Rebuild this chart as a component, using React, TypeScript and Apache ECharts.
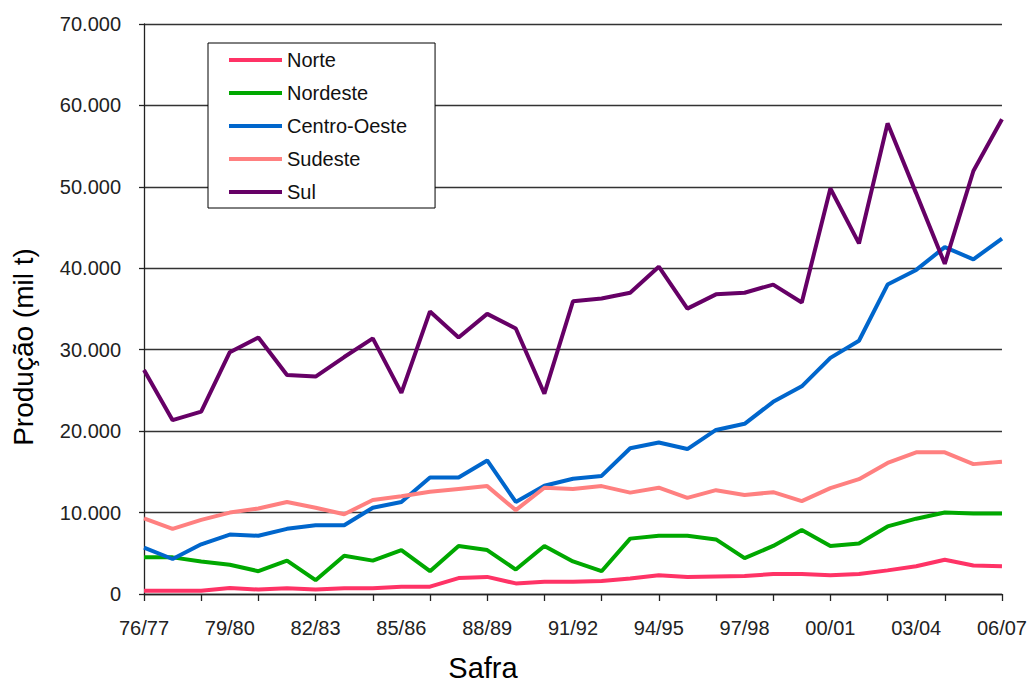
import React, { useEffect, useRef } from "react";
import * as echarts from "echarts";

const categories = [
  "76/77", "77/78", "78/79", "79/80", "80/81", "81/82", "82/83", "83/84", "84/85", "85/86",
  "86/87", "87/88", "88/89", "89/90", "90/91", "91/92", "92/93", "93/94", "94/95", "95/96",
  "96/97", "97/98", "98/99", "99/00", "00/01", "01/02", "02/03", "03/04", "04/05", "05/06", "06/07",
];

const norte = [
  400, 400, 400, 750, 550, 700, 550, 700, 700, 900, 900, 1950, 2100, 1300, 1500, 1500,
  1600, 1900, 2300, 2100, 2150, 2200, 2450, 2450, 2300, 2450, 2900, 3400, 4200, 3500, 3400,
];
const nordeste = [
  4500, 4500, 4000, 3600, 2800, 4100, 1700, 4700, 4100, 5400, 2800, 5900, 5400, 3000, 5900, 4000,
  2800, 6800, 7150, 7150, 6700, 4400, 5900, 7850, 5900, 6200, 8300, 9250, 10000, 9900, 9900,
];
const centroOeste = [
  5700, 4300, 6100, 7300, 7150, 8000, 8450, 8450, 10600, 11300, 14300, 14300, 16400, 11300, 13300, 14150,
  14500, 17900, 18600, 17800, 20150, 20900, 23600, 25500, 29000, 31100, 38000, 39800, 42600, 41100, 43650,
];
const sudeste = [
  9300, 8000, 9100, 10000, 10500, 11300, 10600, 9800, 11550, 12000, 12550, 12900, 13250, 10300, 13050, 12900,
  13250, 12450, 13050, 11800, 12750, 12150, 12500, 11400, 13000, 14100, 16100, 17400, 17400, 15950, 16250,
];
const sul = [
  27500, 21350, 22400, 29700, 31500, 26900, 26700, 29100, 31400, 24700, 34700, 31500, 34400, 32600, 24600, 35950,
  36300, 37000, 40200, 35050, 36800, 37000, 38000, 35800, 49800, 43050, 57800, 49200, 40550, 51950, 58300,
];

const seriesNames = ["Norte", "Nordeste", "Centro-Oeste", "Sudeste", "Sul"];
const seriesData = [norte, nordeste, centroOeste, sudeste, sul];
const seriesColors = ["#FF3366", "#00A800", "#0066CC", "#FF8080", "#660066"];

const yTitle = "Produção (mil t)";
const xTitle = "Safra";

const FONT = "'Liberation Sans', Arial, sans-serif";

function fmt(v: number): string {
  if (v === 0) return "0";
  const s = String(Math.round(v));
  return s.replace(/\B(?=(\d{3})+(?!\d))/g, ".");
}

export default function App() {
  const ref = useRef<HTMLDivElement>(null);

  useEffect(() => {
    if (!ref.current) return;
    const chart = echarts.init(ref.current, undefined, { renderer: "svg" });
    chart.setOption({
      animation: false,
      backgroundColor: "#ffffff",
      textStyle: { fontFamily: FONT },
      grid: { left: 144, right: 26, top: 24, bottom: 92, containLabel: false },
      legend: {
        orient: "vertical",
        left: 208,
        top: 43,
        data: seriesNames.map((n) => ({ name: n, icon: "path://M0,0H53V4H0Z" })),
        itemWidth: 53,
        itemHeight: 4,
        itemGap: 13,
        padding: [7, 28, 6, 21],
        borderColor: "#000",
        borderWidth: 1,
        backgroundColor: "#fff",
        textStyle: { fontSize: 20, color: "#111", fontFamily: FONT, lineHeight: 20 },
      },
      xAxis: {
        type: "category",
        data: categories,
        boundaryGap: false,
        axisLine: { lineStyle: { color: "#222", width: 1.3 } },
        axisTick: { show: true, interval: 1, length: 7, lineStyle: { color: "#222", width: 1.3 } },
        axisLabel: { interval: 2, margin: 24, fontSize: 20, color: "#222", fontFamily: FONT },
        splitLine: { show: false },
      },
      yAxis: {
        type: "value",
        min: 0,
        max: 70000,
        interval: 10000,
        axisLine: { show: true, lineStyle: { color: "#222", width: 1.3 } },
        axisTick: { show: true, length: 5, lineStyle: { color: "#222", width: 1.3 } },
        axisLabel: { margin: 23, fontSize: 20, color: "#222", fontFamily: FONT, formatter: (v: number) => fmt(v) },
        splitLine: { show: true, lineStyle: { color: "#333", width: 1.3 } },
      },
      graphic: [
        {
          type: "text",
          x: 23,
          y: 347,
          rotation: Math.PI / 2,
          style: {
            text: yTitle,
            fontSize: 28,
            fontFamily: FONT,
            fill: "#000",
            align: "center",
            verticalAlign: "middle",
          },
        },
        {
          type: "text",
          x: 483,
          y: 668,
          style: {
            text: xTitle,
            fontSize: 29,
            fontFamily: FONT,
            fill: "#000",
            align: "center",
            verticalAlign: "middle",
          },
        },
      ],
      series: seriesNames.map((name, i) => ({
        name,
        type: "line",
        data: seriesData[i],
        symbol: "none",
        showSymbol: false,
        color: seriesColors[i],
        lineStyle: { color: seriesColors[i], width: 4 },
        z: 2 + i,
      })),
    });
    return () => chart.dispose();
  }, []);

  return (
    <div
      ref={ref}
      style={{ position: "fixed", left: 0, top: 0, width: 1030, height: 686, background: "#fff" }}
    />
  );
}
